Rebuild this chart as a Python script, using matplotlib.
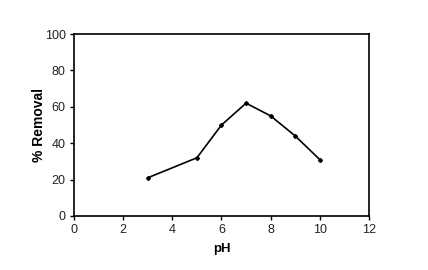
# pH effect on % removal
import matplotlib
matplotlib.use('Agg')
import matplotlib.pyplot as plt

ph = [3, 5, 6, 7, 8, 9, 10]
removal = [21, 32, 50, 62, 55, 44, 31]
x_ticks = [0, 2, 4, 6, 8, 10, 12]
y_ticks = [0, 20, 40, 60, 80, 100]

plt.rcParams['font.family'] = ['Liberation Sans', 'DejaVu Sans']

fig = plt.figure(figsize=(4.28, 2.7), dpi=100)
ax = fig.add_axes([0.173, 0.2, 0.689, 0.674])
ax.plot(ph, removal, color='black', linewidth=1.2, marker='D', markersize=2)
ax.set_xlim(0, 12)
ax.set_ylim(0, 100)
ax.set_xticks(x_ticks)
ax.set_yticks(y_ticks)
ax.tick_params(direction='out', length=3, width=1, labelsize=9, pad=3,
               labelcolor='#222222')
for s in ax.spines.values():
    s.set_linewidth(1.2)
ax.set_xlabel('pH', fontsize=9.5, fontweight='bold', labelpad=5)
ax.set_ylabel('% Removal', fontsize=10, fontweight='bold', labelpad=-1)

fig.savefig('out.png', dpi=100)
